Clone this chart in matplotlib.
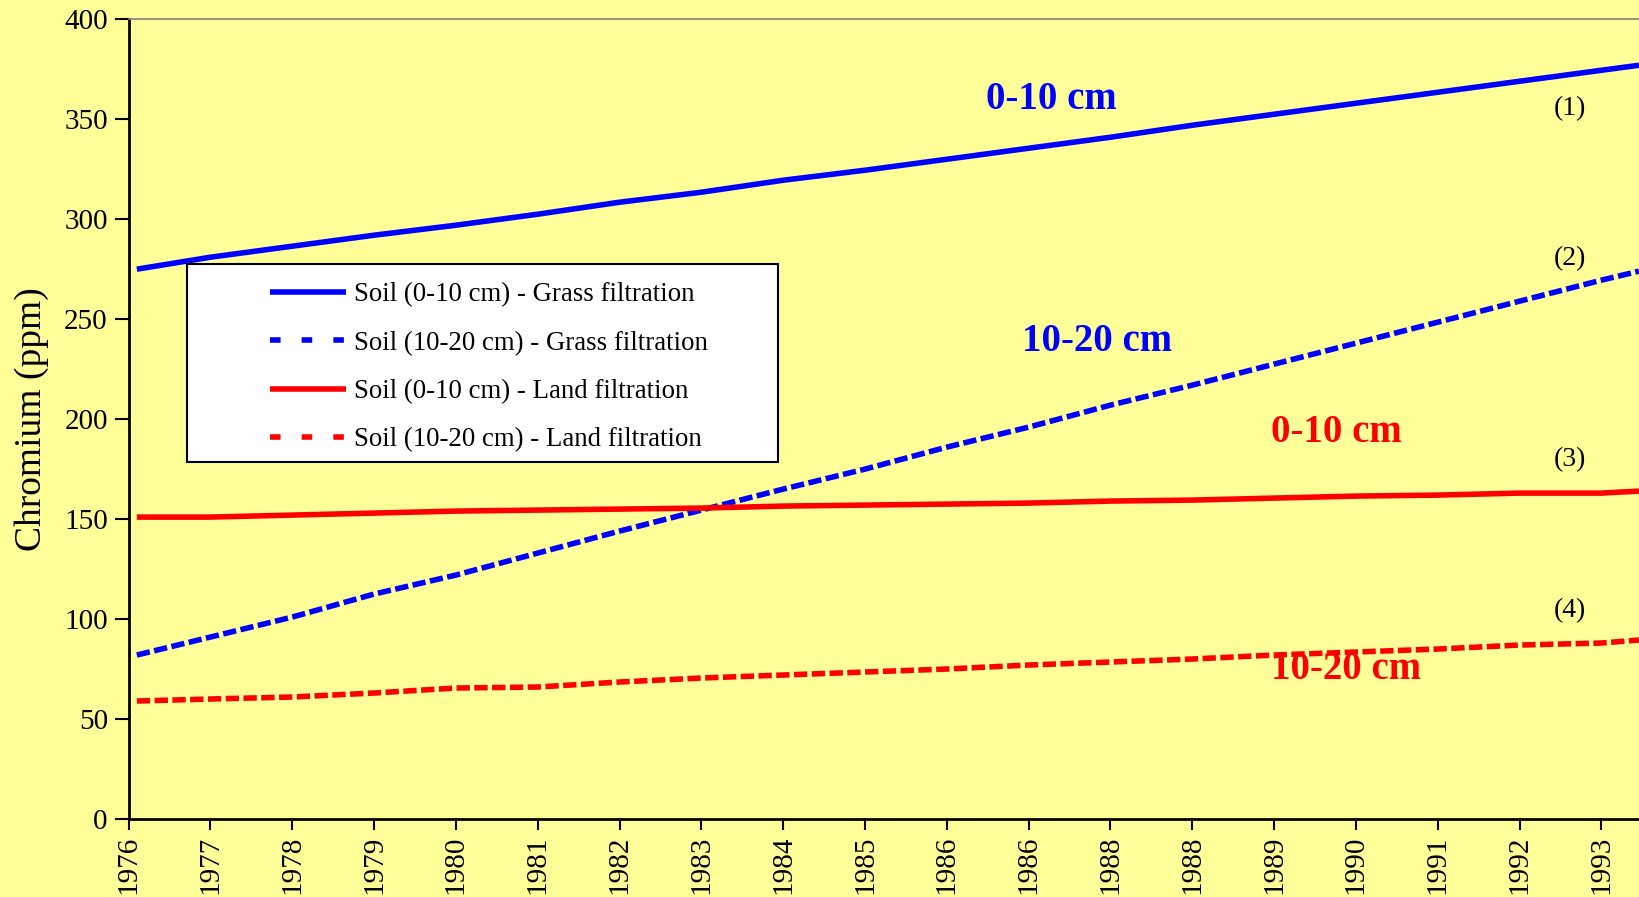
import matplotlib
matplotlib.use("Agg")
import matplotlib.pyplot as plt
from matplotlib.lines import Line2D
from matplotlib.patches import Rectangle

# ---------------- data ----------------
elapsed_years = [0.1, 1, 2, 3, 4, 5, 6, 7, 8, 9, 10, 11, 12, 13, 14, 15, 16, 17, 18, 18.46]
grass_0_10 = [275, 281, 286.5, 292, 297, 302.5, 308.5, 313.5, 319.5, 324.5, 330, 335.5,
              341, 347, 352.5, 358, 363.5, 369, 374.5, 377]
grass_10_20 = [82, 91, 101, 112.5, 122, 133, 144, 154.5, 165, 175, 186, 196,
               207, 217, 227.5, 238, 248.5, 259, 269.5, 274]
land_0_10 = [151, 151, 152, 153, 154, 154.5, 155, 155.5, 156.5, 157, 157.5, 158,
             159, 159.5, 160.5, 161.5, 162, 163, 163, 164]
land_10_20 = [59, 60, 61, 63, 65.5, 66, 68.5, 70.5, 72, 73.5, 75, 77,
              78.5, 80, 82, 83.5, 85, 87, 88, 89.5]

tick_labels = ["1976", "1977", "1978", "1979", "1980", "1981", "1982", "1983", "1984",
               "1985", "1986", "1986", "1988", "1988", "1989", "1990", "1991", "1992", "1993"]
series_labels = ["Soil (0-10 cm) - Grass filtration",
                 "Soil (10-20 cm) - Grass filtration",
                 "Soil (0-10 cm) - Land filtration",
                 "Soil (10-20 cm) - Land filtration"]

# ---------------- style ----------------
plt.rcParams['font.family'] = ['Liberation Serif', 'DejaVu Serif']
BG = '#FFFF99'
BLUE = '#0000FF'
RED = '#FF0000'
LW = 4.0

fig = plt.figure(figsize=(16.39, 8.97), dpi=100, facecolor=BG)
ax = fig.add_axes([0.0785, 0.087, 0.9215, 0.8915])
ax.set_facecolor(BG)

ax.plot(elapsed_years, grass_0_10, color=BLUE, lw=LW, solid_capstyle='butt')
ax.plot(elapsed_years, grass_10_20, color=BLUE, lw=LW, dashes=(2.4, 0.8), dash_capstyle='butt')
ax.plot(elapsed_years, land_0_10, color=RED, lw=LW, solid_capstyle='butt')
ax.plot(elapsed_years, land_10_20, color=RED, lw=LW, dashes=(2.4, 0.8), dash_capstyle='butt')

ax.set_xlim(0, 18.46)
ax.set_ylim(0, 400)
ax.set_yticks(range(0, 401, 50))
ax.set_xticks(range(len(tick_labels)))
ax.set_xticklabels(tick_labels, rotation=90, fontsize=21)
ax.tick_params(axis='y', labelsize=21, length=10, width=1.5, direction='out', pad=5)
ax.tick_params(axis='x', length=8, width=1.5, direction='out', pad=4)

for s in ['left', 'bottom']:
    ax.spines[s].set_linewidth(2)
    ax.spines[s].set_color('black')
ax.spines['top'].set_color('#808080')
ax.spines['top'].set_linewidth(1.2)
ax.spines['right'].set_visible(False)

ax.set_ylabel("Chromium (ppm)", fontsize=27)
ax.yaxis.set_label_coords(-0.0525, 0.5)

# legend with white box
ax.add_patch(Rectangle((0.0387, 0.4464), 0.3911, 0.247, transform=ax.transAxes,
                       facecolor='white', edgecolor='black', lw=1.5, zorder=4))
handles = [
    Line2D([], [], color=BLUE, lw=LW, solid_capstyle='butt'),
    Line2D([], [], color=BLUE, lw=LW, dashes=(1.9, 3.8), dash_capstyle='butt'),
    Line2D([], [], color=RED, lw=LW, solid_capstyle='butt'),
    Line2D([], [], color=RED, lw=LW, dashes=(1.9, 3.8), dash_capstyle='butt'),
]
leg = ax.legend(handles, series_labels, loc='upper left', bbox_to_anchor=(0.0936, 0.671),
                frameon=False, fontsize=19.3, handlelength=2.83, handletextpad=0.3,
                labelspacing=0.87, borderpad=0, borderaxespad=0)
leg.set_zorder(5)

# annotations
ax.text(11.28, 359.9, "0-10 cm", color=BLUE, fontsize=28, fontweight='bold', ha='center', va='center')
ax.text(11.83, 238.6, "10-20 cm", color=BLUE, fontsize=28, fontweight='bold', ha='center', va='center')
ax.text(14.76, 193.1, "0-10 cm", color=RED, fontsize=28, fontweight='bold', ha='center', va='center')
ax.text(14.88, 75.0, "10-20 cm", color=RED, fontsize=28, fontweight='bold', ha='center', va='center')
for lab, yv in [("(1)", 355.2), ("(2)", 280.4), ("(3)", 179.5), ("(4)", 104.3)]:
    ax.text(17.61, yv, lab, fontsize=20, ha='center', va='center', color='black')

fig.savefig("out.png", dpi=100, facecolor=BG)
